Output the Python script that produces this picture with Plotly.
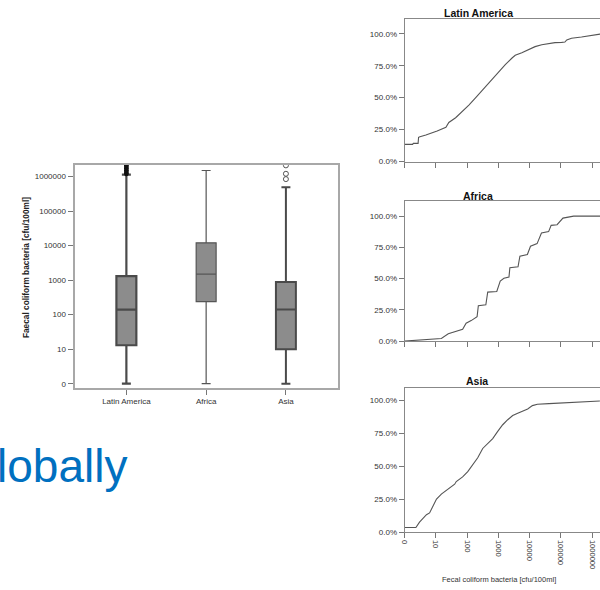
import plotly.graph_objects as go

# ---------------- data ----------------
regions = ["Latin America", "Africa", "Asia"]
q1 = [13, 237, 10]
median = [140, 1500, 140]
q3 = [1300, 12000, 875]
lowerfence = [1, 1, 1]
upperfence = [1140000, 1490000, 490000]
la_outliers = [1200000, 1350000, 1500000, 1700000, 1900000, 2100000]
asia_outliers = [840000, 1200000, 2100000]

log_ticks = [1, 10, 100, 1000, 10000, 100000, 1000000]
log_tick_text = ["0", "10", "100", "1000", "10000", "100000", "1000000"]
pct_ticks = [0, 0.25, 0.5, 0.75, 1.0]

la_x = [1, 1.8, 1.9, 2.7, 2.8, 3.1, 4.8, 7.8, 11, 21, 24, 26, 43, 70, 114, 186, 302, 492, 630, 1030,
        1670, 2750, 3470, 5650, 9300, 15000, 24500, 40000, 65000, 107000, 135000, 155000, 220000,
        460000, 750000, 1200000, 1800000]
la_y = [0.135, 0.135, 0.143, 0.143, 0.19, 0.195, 0.208, 0.223, 0.239, 0.268, 0.286, 0.306, 0.343, 0.39,
        0.442, 0.499, 0.556, 0.618, 0.644, 0.701, 0.758, 0.81, 0.831, 0.852, 0.878, 0.899, 0.914, 0.925,
        0.930, 0.932, 0.935, 0.951, 0.964, 0.974, 0.982, 0.99, 0.997]

af_x = [1, 15, 25, 40, 72, 93, 135, 209, 229, 398, 457, 891, 1150, 1510, 2190, 2340, 4270, 4900, 8510,
        10700, 17400, 24000, 40700, 49000, 75900, 117000, 257000, 1800000]
af_y = [0.0, 0.021, 0.058, 0.074, 0.095, 0.143, 0.164, 0.196, 0.283, 0.291, 0.392, 0.397, 0.481, 0.503,
        0.513, 0.587, 0.595, 0.68, 0.693, 0.759, 0.78, 0.865, 0.876, 0.926, 0.931, 0.984, 1.0, 1.0]

as_x = [1, 2.3, 3.0, 3.9, 5.0, 6.3, 8.1, 10.5, 15, 25, 40, 45, 72, 105, 151, 219, 316, 407, 661, 955,
        1380, 2000, 2880, 4170, 6030, 8710, 12300, 17800, 41700, 110000, 178000, 1260000, 1780000]
as_y = [0.038, 0.038, 0.078, 0.108, 0.135, 0.148, 0.203, 0.253, 0.291, 0.328, 0.366, 0.386, 0.421, 0.461,
        0.511, 0.566, 0.637, 0.662, 0.712, 0.767, 0.817, 0.855, 0.887, 0.905, 0.922, 0.937, 0.962, 0.972,
        0.977, 0.982, 0.99, 0.995, 0.997]

W, H = 600, 590
FONT = "Liberation Sans, Arial, sans-serif"


def px(x):
    return x / W


def py(y):
    return 1 - y / H


fig = go.Figure()

# ---------------- box plot ----------------
box_styles = [("#4a4a4a", 2.2), ("#555555", 1.2), ("#4a4a4a", 2.0)]
for i, r in enumerate(regions):
    col, lw = box_styles[i]
    fig.add_trace(go.Box(
        x=[r], q1=[q1[i]], median=[median[i]], q3=[q3[i]],
        lowerfence=[lowerfence[i]], upperfence=[upperfence[i]],
        fillcolor="#8c8c8c", line=dict(color=col, width=lw),
        width=0.25, whiskerwidth=0.45, boxpoints=False,
        xaxis="x", yaxis="y", showlegend=False, hoverinfo="skip"))

fig.add_trace(go.Scatter(
    x=[regions[0]] * len(la_outliers), y=la_outliers, mode="markers",
    marker=dict(symbol="asterisk-open", size=4, color="#111", line=dict(color="#111", width=1.4)),
    xaxis="x", yaxis="y", showlegend=False, hoverinfo="skip", cliponaxis=True))
fig.add_trace(go.Scatter(
    x=[regions[2]] * len(asia_outliers), y=asia_outliers, mode="markers",
    marker=dict(symbol="circle-open", size=5, color="#555", line=dict(color="#555", width=1)),
    xaxis="x", yaxis="y", showlegend=False, hoverinfo="skip", cliponaxis=True))

# ---------------- ECDF panels ----------------
curves = [(la_x, la_y, "2"), (af_x, af_y, "3"), (as_x, as_y, "4")]
for cx, cy, k in curves:
    fig.add_trace(go.Scatter(
        x=cx, y=cy, mode="lines", line=dict(color="#555555", width=1.1),
        xaxis="x" + k, yaxis="y" + k, showlegend=False, hoverinfo="skip"))

axis_common = dict(showgrid=False, zeroline=False, ticks="outside", ticklen=5,
                   tickcolor="#777", tickwidth=1)

layout = dict(
    width=W, height=H, margin=dict(l=0, r=0, t=0, b=0),
    paper_bgcolor="white", plot_bgcolor="white",
    font=dict(family=FONT, color="#333"),
    xaxis=dict(domain=[px(71), px(336)], anchor="y", type="category",
               categoryorder="array", categoryarray=regions, range=[-0.65, 2.65],
               showline=True, mirror=True, linecolor="#a8a8a8", linewidth=2,
               tickfont=dict(size=8, color="#333"), **axis_common),
    yaxis=dict(domain=[py(391), py(166)], anchor="x", type="log", range=[-0.115, 6.345],
               tickvals=log_ticks, ticktext=log_tick_text,
               showline=True, mirror=True, linecolor="#a8a8a8", linewidth=2,
               tickfont=dict(size=8, color="#333"), **axis_common),
)

panel_geo = {"2": (163, 19.3, 1.114), "3": (344, 202.7, 1.121), "4": (537, 391, 1.098)}
for k, (ybot, ytop, ymax) in panel_geo.items():
    layout["xaxis" + k] = dict(
        domain=[px(403.3), 1.0], anchor="y" + k, type="log", range=[0, 6.254],
        tickvals=log_ticks, ticktext=log_tick_text, tickangle=90,
        showticklabels=(k == "4"), tickfont=dict(size=7.5, color="#333"),
        showline=True, mirror=True, linecolor="#888", linewidth=1, **axis_common)
    layout["yaxis" + k] = dict(
        domain=[py(ybot), py(ytop)], anchor="x" + k, range=[0, ymax],
        tickvals=pct_ticks, tickformat=".1%", tickfont=dict(size=8, color="#333"),
        showline=True, mirror=False, linecolor="#888", linewidth=1, **axis_common)

annotations = [
    dict(text="<b>Latin America</b>", x=px(478), y=py(13.5), font=dict(size=10.5, color="#111")),
    dict(text="<b>Africa</b>", x=px(477.5), y=py(197.5), font=dict(size=10.5, color="#111")),
    dict(text="<b>Asia</b>", x=px(476), y=py(384), font=dict(size=10.5, color="#111")),
    dict(text="Fecal coliform bacteria [cfu/100ml]", x=px(498), y=py(590), yanchor="bottom",
         borderpad=0, font=dict(size=7.5, color="#333")),
    dict(text="<b>Faecal coliform bacteria [cfu/100ml]</b>", x=px(21.5), y=py(270),
         textangle=-90, font=dict(size=8.3, color="#222")),
    dict(text="lobally", x=px(-9), y=py(470), xanchor="left",
         font=dict(size=46, color="#0070C0")),
]
for a in annotations:
    a.setdefault("xanchor", "center")
    a.setdefault("yanchor", "middle")
    a.update(xref="paper", yref="paper", showarrow=False)
layout["annotations"] = annotations

fig.update_layout(**layout)
fig.write_html("out.html", config={"displayModeBar": False},
               post_script="document.body.style.margin='0';document.body.style.overflow='hidden';")
